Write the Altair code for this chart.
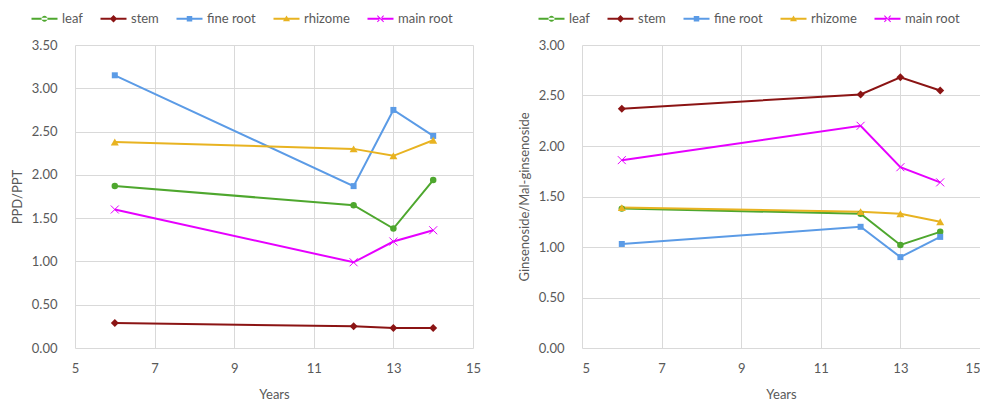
import altair as alt
import pandas as pd

series = ["leaf", "stem", "fine root", "rhizome", "main root"]
colors = ["#4EA72E", "#8B1414", "#5B9BE6", "#E8B321", "#E600FF"]
years = [6, 12, 13, 14]
x_ticks = [5, 7, 9, 11, 13, 15]

ppd_leaf = [1.87, 1.65, 1.38, 1.94]
ppd_stem = [0.29, 0.25, 0.23, 0.23]
ppd_fine_root = [3.15, 1.87, 2.75, 2.45]
ppd_rhizome = [2.38, 2.30, 2.22, 2.40]
ppd_main_root = [1.60, 0.99, 1.23, 1.36]

gin_leaf = [1.38, 1.33, 1.02, 1.15]
gin_stem = [2.37, 2.51, 2.68, 2.55]
gin_fine_root = [1.03, 1.20, 0.90, 1.10]
gin_rhizome = [1.39, 1.35, 1.33, 1.25]
gin_main_root = [1.86, 2.20, 1.79, 1.64]

ppd_ticks = [0, 0.5, 1.0, 1.5, 2.0, 2.5, 3.0, 3.5]
gin_ticks = [0, 0.5, 1.0, 1.5, 2.0, 2.5, 3.0]

X_PATH = "M-1,-1L1,1M-1,1L1,-1"
marker_shapes = ["circle", "diamond", "square", "triangle-up", X_PATH]
marker_sizes = [42, 64, 36, 64, 64]
marker_filled = [True, True, True, True, False]

# legend glyphs: a short line with the marker in its middle (unit = 5 px)
LINE = "M-2.6,-0.2H2.6V0.2H-2.6Z"
legend_paths = [
    LINE + "M-0.6,0A0.6,0.6 0 1,0 0.6,0A0.6,0.6 0 1,0 -0.6,0Z",
    LINE + "M0,-0.75L0.75,0L0,0.75L-0.75,0Z",
    LINE + "M-0.55,-0.55H0.55V0.55H-0.55Z",
    LINE + "M0,-0.65L0.7,0.5H-0.7Z",
    LINE + "M-0.7,-0.56L-0.56,-0.7L0.7,0.56L0.56,0.7ZM-0.7,0.56L-0.56,0.7L0.7,-0.56L0.56,-0.7Z",
]

FONT = "Lato"
GREY = "#595959"


def make_df(lists):
    rows = []
    for s, vals in zip(series, lists):
        for yr, v in zip(years, vals):
            rows.append({"series": s, "year": yr, "value": v})
    return pd.DataFrame(rows)


def panel(lists, ytitle, ymax, yticks, flush):
    df = make_df(lists)
    base = alt.Chart(df)
    x = alt.X(
        "year:Q",
        scale=alt.Scale(domain=[5, 15], nice=False, zero=False),
        axis=alt.Axis(values=x_ticks, title="Years", labelPadding=14, titlePadding=13, labelFlush=flush),
    )
    y = alt.Y(
        "value:Q",
        scale=alt.Scale(domain=[0, ymax], nice=False),
        axis=alt.Axis(values=yticks, format=".2f", title=ytitle, labelPadding=18, titlePadding=7),
    )
    layers = []
    for s, c in zip(series, colors):
        layers.append(
            base.transform_filter(alt.datum.series == s)
            .mark_line(strokeWidth=2, color=c)
            .encode(x=x, y=y)
        )
    for s, c, shp, sz, f in zip(series, colors, marker_shapes, marker_sizes, marker_filled):
        layers.append(
            base.transform_filter(alt.datum.series == s)
            .mark_point(shape=shp, size=sz, filled=f, color=c, opacity=1, strokeWidth=1)
            .encode(x=x, y=y)
        )
    leg = dict(
        orient="none",
        legendX=-45,
        legendY=-33,
        direction="horizontal",
        title=None,
        symbolSize=100,
        symbolOffset=8,
        symbolStrokeWidth=0,
        symbolOpacity=1,
        labelOffset=11,
        columnPadding=16,
        labelFont=FONT,
        labelFontSize=13,
        labelColor=GREY,
    )
    legend_layer = (
        base.transform_filter("false")
        .mark_point(filled=True, opacity=1)
        .encode(
            x=x,
            y=y,
            color=alt.Color("series:N", scale=alt.Scale(domain=series, range=colors), legend=alt.Legend(**leg)),
            shape=alt.Shape("series:N", scale=alt.Scale(domain=series, range=legend_paths), legend=alt.Legend(**leg)),
        )
    )
    layers.append(legend_layer)
    return alt.layer(*layers).properties(width=398, height=303)


left = panel([ppd_leaf, ppd_stem, ppd_fine_root, ppd_rhizome, ppd_main_root], "PPD/PPT", 3.5, ppd_ticks, False)
right = panel([gin_leaf, gin_stem, gin_fine_root, gin_rhizome, gin_main_root],
              "Ginsenoside/Mal-ginsenoside", 3.0, gin_ticks, True)

chart = (
    alt.hconcat(left, right, spacing=37)
    .resolve_scale(color="independent", shape="independent")
    .resolve_legend(color="independent", shape="independent")
    .properties(padding={"left": 3, "top": 4, "right": 0, "bottom": 0})
    .configure_view(stroke=None)
    .configure_axis(
        ticks=False,
        domain=False,
        grid=True,
        gridColor="#D9D9D9",
        gridWidth=1,
        labelFont=FONT,
        labelFontSize=13,
        labelColor=GREY,
        titleFont=FONT,
        titleFontSize=13,
        titleFontWeight="normal",
        titleColor=GREY,
    )
)

chart.save("out.html", embed_options={"renderer": "svg", "actions": False})
